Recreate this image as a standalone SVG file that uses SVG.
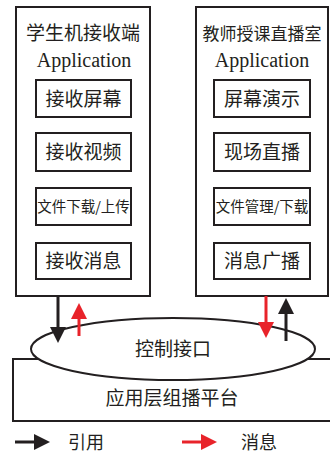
<svg xmlns="http://www.w3.org/2000/svg" width="330" height="453" viewBox="0 0 330 453">
<style>
.box{fill:#fff;stroke:#231f20;stroke-width:2}
.t{font-family:"Noto Sans CJK SC","Liberation Serif",serif;fill:#231f20;text-anchor:middle}
.en{font-family:"Liberation Serif","Noto Sans CJK SC",serif;fill:#231f20;text-anchor:middle}
.blk{stroke:#231f20;stroke-width:3;fill:none}
.red{stroke:#e8232a;stroke-width:3;fill:none}
</style>
<defs>
<marker id="hb" viewBox="0 0 16 16" refX="8" refY="8" markerWidth="16" markerHeight="16" markerUnits="userSpaceOnUse" orient="auto"><path d="M0,0 L16,8 L0,16 z" fill="#231f20"/></marker>
<marker id="hr" viewBox="0 0 16 16" refX="8" refY="8" markerWidth="16" markerHeight="16" markerUnits="userSpaceOnUse" orient="auto"><path d="M0,0 L16,8 L0,16 z" fill="#e8232a"/></marker>
</defs>
<rect width="330" height="453" fill="#fff"/>
<g id="student">
<rect class="box" x="16" y="7" width="134" height="289"/>
<text class="t" x="83" y="40" font-size="19">学生机接收端</text>
<text class="en" x="84" y="67" font-size="20">Application</text>
</g>
<g id="s1"><rect class="box" x="36" y="80" width="95" height="37"/><text class="t" x="83.5" y="106" font-size="19">接收屏幕</text></g>
<g id="s2"><rect class="box" x="36" y="133" width="95" height="38"/><text class="t" x="83.5" y="159" font-size="19">接收视频</text></g>
<g id="s3"><rect class="box" x="36" y="188" width="95" height="37"/><text class="t" x="83.5" y="212" font-size="14.5">文件下载/上传</text></g>
<g id="s4"><rect class="box" x="36" y="243" width="95" height="36"/><text class="t" x="83.5" y="268" font-size="19">接收消息</text></g>
<g id="teacher">
<rect class="box" x="196" y="7" width="132" height="289"/>
<text class="t" x="262" y="40" font-size="17">教师授课直播室</text>
<text class="en" x="262" y="67" font-size="20">Application</text>
</g>
<g id="t1"><rect class="box" x="214" y="80" width="96" height="37"/><text class="t" x="262" y="106" font-size="19">屏幕演示</text></g>
<g id="t2"><rect class="box" x="214" y="133" width="96" height="38"/><text class="t" x="262" y="159" font-size="19">现场直播</text></g>
<g id="t3"><rect class="box" x="214" y="188" width="96" height="37"/><text class="t" x="262" y="212" font-size="14.5">文件管理/下载</text></g>
<g id="t4"><rect class="box" x="214" y="243" width="96" height="36"/><text class="t" x="262" y="268" font-size="19">消息广播</text></g>
<g id="platform">
<rect class="box" x="13" y="359" width="320" height="62"/>
<text class="t" x="172" y="405" font-size="19">应用层组播平台</text>
</g>
<g id="control">
<ellipse class="box" cx="173" cy="349" rx="142" ry="31"/>
<text class="t" x="173" y="356" font-size="19">控制接口</text>
</g>
<g id="connectors">
<line class="blk" x1="58" y1="296" x2="58" y2="335" marker-end="url(#hb)"/>
<line class="red" x1="79" y1="336" x2="79" y2="311" marker-end="url(#hr)"/>
<line class="red" x1="266" y1="296" x2="266" y2="330" marker-end="url(#hr)"/>
<line class="blk" x1="286" y1="341" x2="286" y2="306" marker-end="url(#hb)"/>
</g>
<g id="legend">
<line class="blk" x1="15" y1="442" x2="42" y2="442" marker-end="url(#hb)"/>
<text class="t" x="86" y="449" font-size="18">引用</text>
<line class="red" x1="182" y1="442" x2="209" y2="442" marker-end="url(#hr)"/>
<text class="t" x="259" y="449" font-size="18">消息</text>
</g>
</svg>
